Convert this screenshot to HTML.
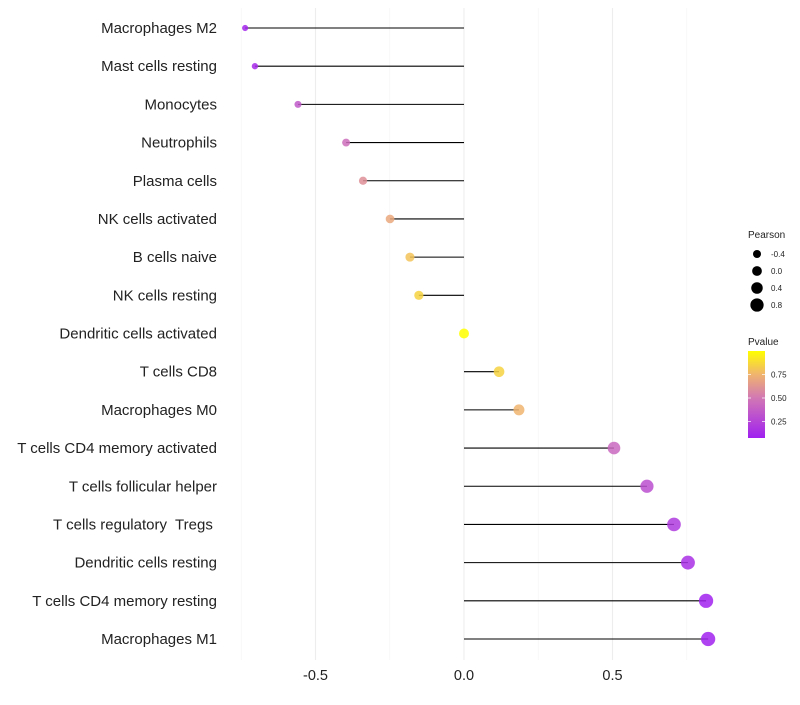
<!DOCTYPE html>
<html><head><meta charset="utf-8"><style>
body{margin:0;background:#fff;}
svg text{font-family:"Liberation Sans",sans-serif;white-space:pre;}
</style></head><body>
<svg id="chart" width="800" height="700"></svg>
<script>
const categories=["Macrophages M2","Mast cells resting","Monocytes","Neutrophils","Plasma cells","NK cells activated","B cells naive","NK cells resting","Dendritic cells activated","T cells CD8","Macrophages M0","T cells CD4 memory activated","T cells follicular helper","T cells regulatory  Tregs ","Dendritic cells resting","T cells CD4 memory resting","Macrophages M1"];
const pearson=[-0.737,-0.704,-0.559,-0.397,-0.340,-0.249,-0.182,-0.152,0.0,0.118,0.185,0.505,0.616,0.707,0.754,0.815,0.822];
const pvalue=[0.1,0.12,0.35,0.45,0.6,0.7,0.8,0.85,1.0,0.85,0.75,0.42,0.3,0.2,0.15,0.08,0.08];
const xTicks=[-0.5,0.0,0.5];
const xTickLabels=["-0.5","0.0","0.5"];
const xMinor=[-0.75,-0.25,0.25,0.75];
const sizeLegend=[-0.4,0.0,0.4,0.8];
const sizeLegendLabels=["-0.4","0.0","0.4","0.8"];
const pTicks=[0.75,0.50,0.25];

const NS="http://www.w3.org/2000/svg";
const svg=document.getElementById('chart');
function el(t,a,p){const e=document.createElementNS(NS,t);for(const k in a)e.setAttribute(k,a[k]);(p||svg).appendChild(e);return e;}
const x=v=>464+v*297;
const y=i=>28+i*(611/16);
const rad=v=>Math.max(1.6,5+2.6*v);
const stops=[[0.07,[160,32,240]],[0.5,[210,120,180]],[0.75,[240,180,110]],[1.0,[255,255,0]]];
function col(p){p=Math.max(0.07,Math.min(1,p));for(let i=0;i<stops.length-1;i++){const[a,ca]=stops[i],[b,cb]=stops[i+1];if(p<=b){const t=(p-a)/(b-a);return 'rgb('+ca.map((c,j)=>Math.round(c+(cb[j]-c)*t)).join(',')+')';}}return 'rgb(255,255,0)';}
const pY=p=>351+(1.0-p)*94;

xMinor.forEach(v=>{const g=el('line',{x1:x(v),x2:x(v),y1:8,y2:660,stroke:'#f4f4f4','stroke-width':0.6});

});
xTicks.forEach((v,i)=>{const g=el('line',{x1:x(v),x2:x(v),y1:8,y2:660,stroke:'#ededed','stroke-width':1.1});


const t=el('text',{x:x(v),y:680,'text-anchor':'middle','font-size':14.5,fill:'#222'});t.textContent=xTickLabels[i];

});

categories.forEach((c,i)=>{
const t=el('text',{x:217,y:y(i)+5,'text-anchor':'end','font-size':15,fill:'#222'});t.textContent=c;


const l=el('line',{x1:x(0),x2:x(pearson[i]),y1:y(i),y2:y(i),stroke:'#000','stroke-width':1.1});


const d=el('circle',{cx:x(pearson[i]),cy:y(i),r:rad(pearson[i]),fill:col(pvalue[i]),'fill-opacity':0.85});


});

const lt=el('text',{x:748,y:238,'font-size':10,fill:'#222'});lt.textContent='Pearson';


sizeLegend.forEach((v,i)=>{const cy=254+i*17;
const c=el('circle',{cx:757,cy:cy,r:4+(v+0.4)*2.2,fill:'#000'});


const t=el('text',{x:771,y:cy+3,'font-size':8,fill:'#222'});t.textContent=sizeLegendLabels[i];

});

const ct=el('text',{x:748,y:345,'font-size':10,fill:'#222'});ct.textContent='Pvalue';


const defs=el('defs',{});const lg=el('linearGradient',{id:'pg',x1:0,y1:1,x2:0,y2:0},defs);
stops.forEach(s=>el('stop',{offset:((s[0]-0.07)/0.93),'stop-color':col(s[0])},lg));
const bar=el('rect',{x:748,y:351,width:17,height:87,fill:'url(#pg)'});


pTicks.forEach(p=>{const yy=pY(p);
el('line',{x1:748,x2:751,y1:yy,y2:yy,stroke:'#fff','stroke-width':0.7});
el('line',{x1:762,x2:765,y1:yy,y2:yy,stroke:'#fff','stroke-width':0.7});
const t=el('text',{x:771,y:yy+3,'font-size':8,fill:'#222'});t.textContent=p.toFixed(2);

});
</script>
</body></html>
